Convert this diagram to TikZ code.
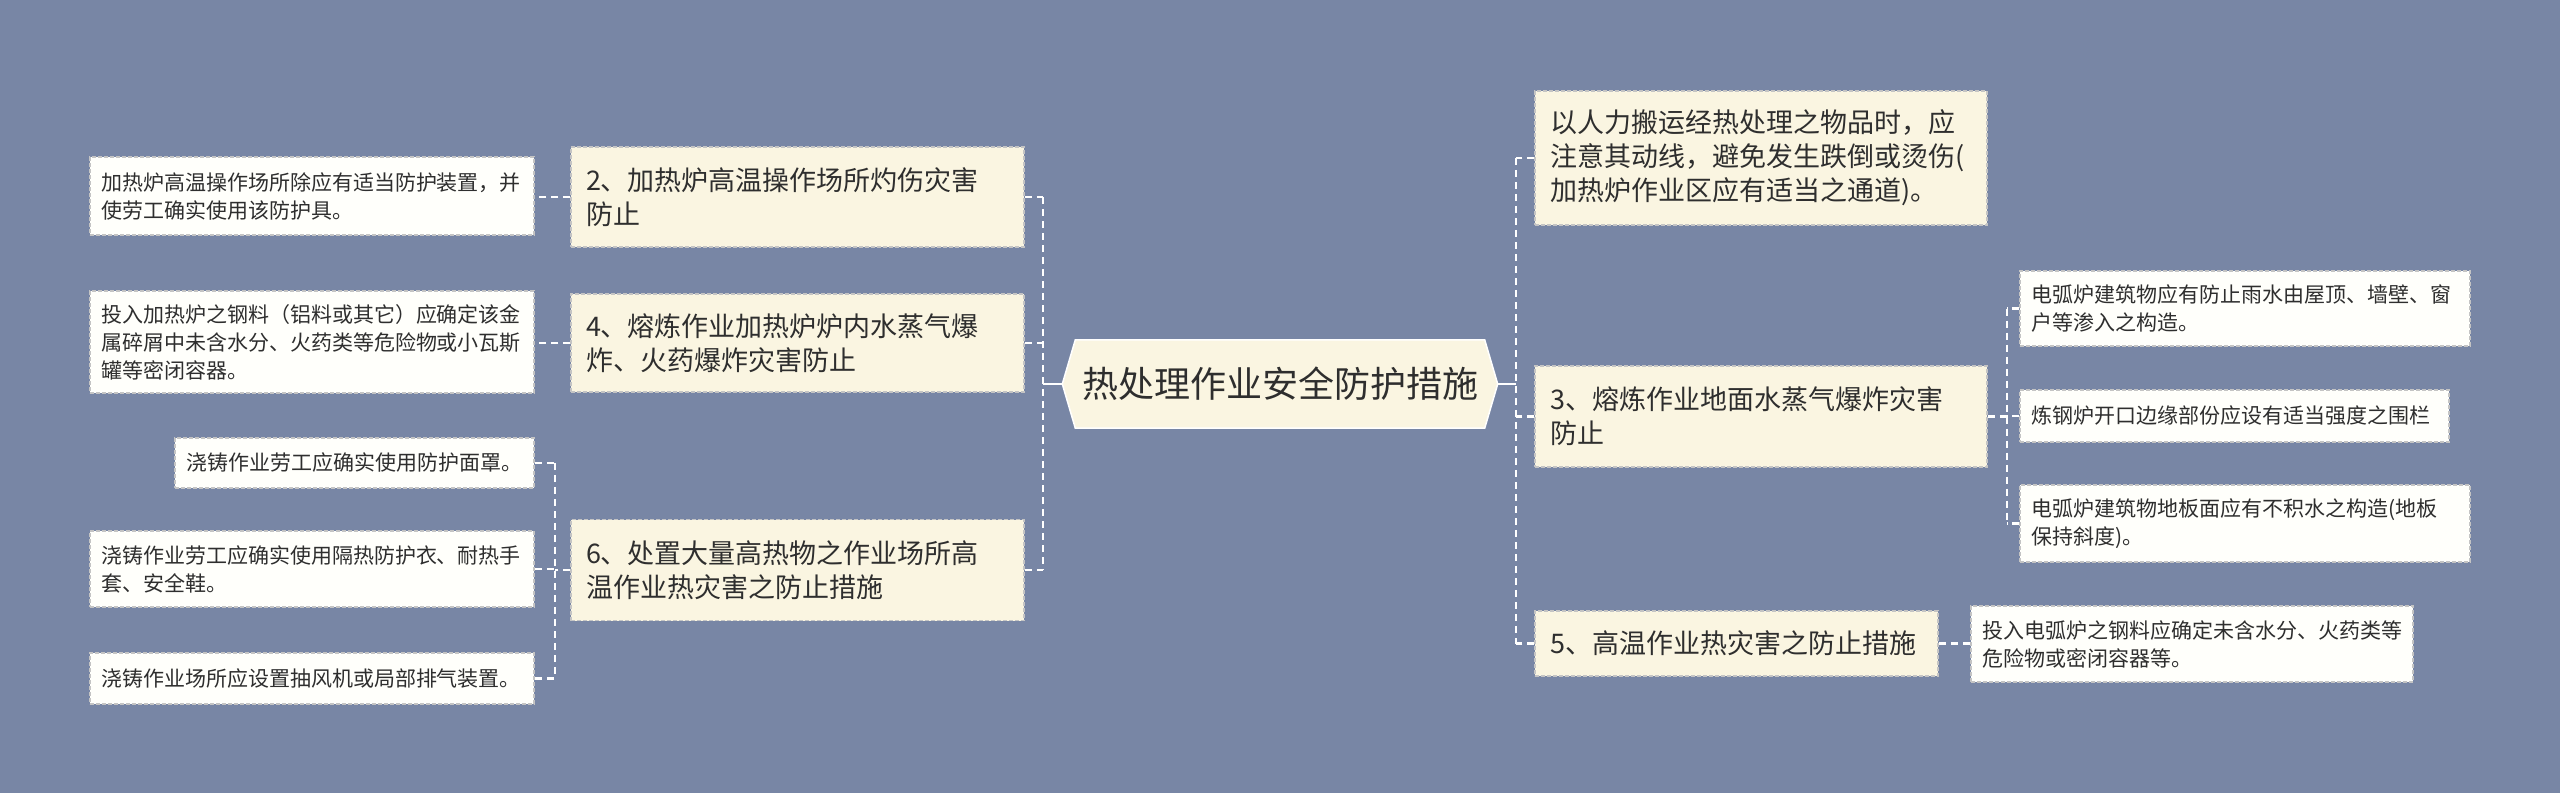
\documentclass[tikz,border=0pt]{standalone}
\usepackage{fontspec}
\setmainfont{Noto Sans CJK SC}
\usetikzlibrary{backgrounds,calc}
\definecolor{bgc}{HTML}{7886A5}
\definecolor{beige}{HTML}{FAF5E1}
\definecolor{wfill}{HTML}{FFFFFB}
\definecolor{bordc}{HTML}{C4C4C4}
\definecolor{txt}{HTML}{2E2E2E}
\tikzset{
  bbox/.style={draw=bordc, dash pattern=on 4pt off 2pt, line width=1.5pt, fill=beige,
    inner xsep=15pt, inner ysep=0pt, align=left, text=txt,
    font=\fontsize{27}{34}\selectfont},
  wbox/.style={draw=bordc, dash pattern=on 4pt off 2pt, line width=1.5pt, fill=wfill,
    inner xsep=11pt, inner ysep=0pt, align=left, text=txt,
    font=\fontsize{21}{28}\selectfont},
  dashcon/.style={draw=white, line width=2.5pt, dash pattern=on 7pt off 5pt},
  solidcon/.style={draw=white, line width=2.5pt},
}
\begin{document}
\begin{tikzpicture}[x=1pt,y=-1pt]
\useasboundingbox (0,0) rectangle (2560,793);
\begin{scope}[on background layer]
  \fill[bgc] (0,0) rectangle (2560,793);
\end{scope}

% central
\node[minimum width=435pt, minimum height=88pt, inner sep=0pt, text=txt,
  font=\fontsize{36}{40}\selectfont] (C) at (1280,384) {热处理作业安全防护措施};
\begin{scope}[on background layer]
  \draw[fill=beige, draw=white, line width=1.5pt]
    (C.west) -- ([xshift=13pt]C.north west) -- ([xshift=-13pt]C.north east)
    -- (C.east) -- ([xshift=-13pt]C.south east) -- ([xshift=13pt]C.south west) -- cycle;
\end{scope}

% left main branches
\node[bbox, minimum height=100pt, text width=423pt] (B2) at (797.5,197)
  {2、加热炉高温操作场所灼伤灾害\\防止};
\node[bbox, minimum height=98pt, text width=423pt] (B4) at (797.5,343)
  {4、熔炼作业加热炉炉内水蒸气爆\\炸、火药爆炸灾害防止};
\node[bbox, minimum height=101pt, text width=423pt] (B6) at (797.5,570)
  {6、处置大量高热物之作业场所高\\温作业热灾害之防止措施};

% right main branches
\node[bbox, minimum height=134pt, text width=422pt] (R1) at (1761,158)
  {以人力搬运经热处理之物品时，应\\注意其动线，避免发生跌倒或烫伤(\\加热炉作业区应有适当之通道)。};
\node[bbox, minimum height=101pt, text width=422pt] (R3) at (1761,416.5)
  {3、熔炼作业地面水蒸气爆炸灾害\\防止};
\node[bbox, minimum height=65pt, text width=373pt] (R5) at (1736.5,643.5)
  {5、高温作业热灾害之防止措施};

% left leaves
\node[wbox, minimum height=78pt, text width=422pt] (W2) at (312,196)
  {加热炉高温操作场所除应有适当防护装置，并\\使劳工确实使用该防护具。};
\node[wbox, minimum height=102pt, text width=422pt] (W4) at (312,342)
  {投入加热炉之钢料（铝料或其它）应确定该金\\属碎屑中未含水分、火药类等危险物或小瓦斯\\罐等密闭容器。};
\node[wbox, minimum height=50pt, text width=337pt] (W6a) at (354.5,463)
  {浇铸作业劳工应确实使用防护面罩。};
\node[wbox, minimum height=76pt, text width=422pt] (W6b) at (312,569)
  {浇铸作业劳工应确实使用隔热防护衣、耐热手\\套、安全鞋。};
\node[wbox, minimum height=51pt, text width=422pt] (W6c) at (312,678.5)
  {浇铸作业场所应设置抽风机或局部排气装置。};

% right leaves
\node[wbox, minimum height=75pt, text width=428pt] (W3a) at (2245,308.5)
  {电弧炉建筑物应有防止雨水由屋顶、墙壁、窗\\户等渗入之构造。};
\node[wbox, minimum height=52pt, text width=407pt] (W3b) at (2234.5,416)
  {炼钢炉开口边缘部份应设有适当强度之围栏};
\node[wbox, minimum height=77pt, text width=428pt] (W3c) at (2245,523.5)
  {电弧炉建筑物地板面应有不积水之构造(地板\\保持斜度)。};
\node[wbox, minimum height=76pt, text width=420pt] (W5) at (2192,644)
  {投入电弧炉之钢料应确定未含水分、火药类等\\危险物或密闭容器等。};

% trunk coordinates
\coordinate (LT) at (1043,384);
\coordinate (RT) at (1516,384);
\coordinate (L6) at (555,570);
\coordinate (R3t) at (2007,416);

% left connectors
\draw[solidcon] (C.west) -- (LT);
\draw[dashcon] (B2.east -| LT) -- (B6.east -| LT);
\draw[dashcon] (B2.east) -- (B2.east -| LT);
\draw[dashcon] (B4.east) -- (B4.east -| LT);
\draw[dashcon] (B6.east) -- (B6.east -| LT);
\draw[dashcon] (B2.west) -- (B2.west -| W2.east);
\draw[dashcon] (B4.west) -- (B4.west -| W4.east);
\draw[dashcon] (B6.west) -- (B6.west -| L6);
\draw[dashcon] (W6a.east -| L6) -- (W6c.east -| L6);
\draw[dashcon] (W6a.east) -- (W6a.east -| L6);
\draw[dashcon] (W6b.east) -- (W6b.east -| L6);
\draw[dashcon] (W6c.east) -- (W6c.east -| L6);

% right connectors
\draw[solidcon] (C.east) -- (RT);
\draw[dashcon] (R1.west -| RT) -- (R5.west -| RT);
\draw[dashcon] (R1.west) -- (R1.west -| RT);
\draw[dashcon] (R3.west) -- (R3.west -| RT);
\draw[dashcon] (R5.west) -- (R5.west -| RT);
\draw[dashcon] (R3.east) -- (R3.east -| R3t);
\draw[dashcon] (W3a.west -| R3t) -- (W3c.west -| R3t);
\draw[dashcon] (W3a.west) -- (W3a.west -| R3t);
\draw[dashcon] (W3b.west) -- (W3b.west -| R3t);
\draw[dashcon] (W3c.west) -- (W3c.west -| R3t);
\draw[dashcon] (R5.east) -- (R5.east -| W5.west);
\end{tikzpicture}
\end{document}
